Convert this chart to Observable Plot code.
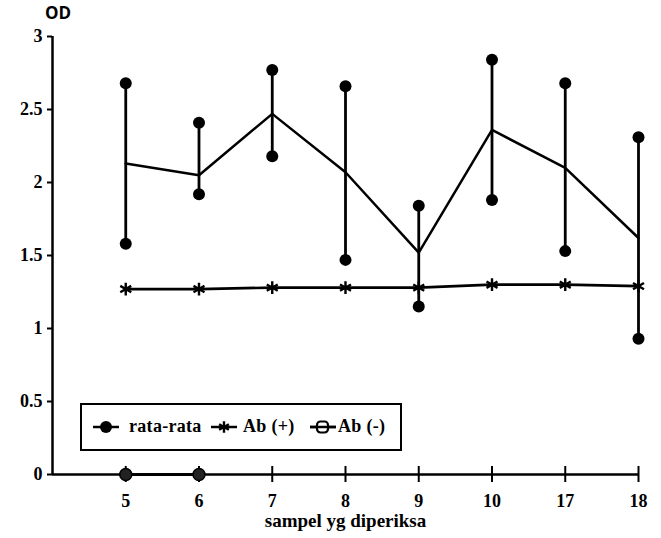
<!DOCTYPE html>
<html>
<head>
<meta charset="utf-8">
<script src="https://cdn.jsdelivr.net/npm/d3@7"></script>
<script src="https://cdn.jsdelivr.net/npm/@observablehq/plot@0.6"></script>
<style>
  html, body { margin: 0; padding: 0; background: #fff; }
  #wrap { position: relative; width: 661px; height: 538px; font-family: "Liberation Serif", "DejaVu Serif", serif; font-weight: bold; color: #000; }
  #legend { position: absolute; left: 80px; top: 403px; width: 318px; height: 44px; border: 2.5px solid #000; box-sizing: content-box; }
  #legend .m { position: absolute; top: 15px; }
  #legend .t { position: absolute; top: 10px; font-size: 18px; line-height: 22px; letter-spacing: 0.3px; white-space: nowrap; }
  #od { position: absolute; left: 45px; top: 1px; font-size: 17px; font-family: "Open Sans", "DejaVu Sans", sans-serif; font-weight: bold; }
</style>
</head>
<body>
<div id="wrap">
  <div id="od">OD</div>
  <div id="chart"></div>
  <div id="legend"></div>
</div>
<script>
// categories (sample numbers)
const labels = ["5", "6", "7", "8", "9", "10", "17", "18"];
// mean OD (rata-rata)
const meanVals = [2.13, 2.05, 2.47, 2.07, 1.52, 2.36, 2.10, 1.62];
// max / min OD
const maxVals = [2.68, 2.41, 2.77, 2.66, 1.84, 2.84, 2.68, 2.31];
const minVals = [1.58, 1.92, 2.18, 1.47, 1.15, 1.88, 1.53, 0.93];
// positive control Ab (+)
const abPos = [1.27, 1.27, 1.28, 1.28, 1.28, 1.30, 1.30, 1.29];
// negative control Ab (-)
const abNegLabels = ["5", "6"];
const abNeg = [0, 0];
const yTicks = [0, 0.5, 1, 1.5, 2, 2.5, 3];

const idx = l => labels.indexOf(l) + 1;
const rows = labels.map((l, i) => ({i: i + 1, label: l, mean: meanVals[i], max: maxVals[i], min: minVals[i], pos: abPos[i]}));
const neg = abNegLabels.map((l, k) => ({i: idx(l), v: abNeg[k]}));
const positions = labels.map((l, i) => i + 1);

const chart = Plot.plot({
  width: 661,
  height: 538,
  marginLeft: 52,
  marginRight: 23,
  marginTop: 36,
  marginBottom: 64,
  style: {fontFamily: "'Liberation Serif', serif", fontWeight: "bold", fontSize: "18px", color: "#000", background: "#fff"},
  x: {type: "linear", domain: [0, labels.length], axis: null},
  y: {domain: [0, 3], axis: null},
  marks: [
    Plot.axisY({ticks: yTicks, tickSize: 5, tickPadding: 5, tickFormat: d => String(d), label: null, strokeWidth: 2, fontSize: 18}),
    Plot.axisX({ticks: positions, tickSize: 0, tickPadding: 20, tickFormat: i => labels[i - 1], label: null, fontSize: 18}),
    Plot.text(["sampel yg diperiksa"], {frameAnchor: "bottom", dy: 52, fontSize: 19, fontWeight: "bold", letterSpacing: "0.6px"}),
    // axis lines
    Plot.ruleX([0], {y1: 0, y2: 3, strokeWidth: 2.5}),
    Plot.ruleY([0], {x1: 0, x2: labels.length, strokeWidth: 2.5}),
    Plot.ruleX(positions, {y1: -0.055, y2: 0.055, strokeWidth: 2}),
    // range bars
    Plot.ruleX(rows, {x: "i", y1: "min", y2: "max", strokeWidth: 2.8}),
    Plot.dot(rows, {x: "i", y: "max", r: 6, fill: "#000"}),
    Plot.dot(rows, {x: "i", y: "min", r: 6, fill: "#000"}),
    // mean line
    Plot.line(rows, {x: "i", y: "mean", strokeWidth: 2.5}),
    // Ab (+)
    Plot.line(rows, {x: "i", y: "pos", strokeWidth: 2.7}),
    Plot.dot(rows, {x: "i", y: "pos", symbol: "asterisk", r: 6, stroke: "#000", strokeWidth: 2.4}),
    // Ab (-)
    Plot.line(neg, {x: "i", y: "v", strokeWidth: 3}),
    Plot.dot(neg, {x: "i", y: "v", r: 6, fill: "#222", stroke: "#000", strokeWidth: 1.5})
  ]
});
document.getElementById("chart").appendChild(chart);

// legend
const legendItems = [
  {name: "rata-rata", sym: "dot", mx: 10, tx: 47},
  {name: "Ab (+)", sym: "ast", mx: 128, tx: 161},
  {name: "Ab (-)", sym: "neg", mx: 227, tx: 256}
];
const lg = d3.select("#legend");
legendItems.forEach(it => {
  const s = lg.append("svg").attr("class", "m").style("left", it.mx + "px").attr("width", 28).attr("height", 14);
  s.append("line").attr("x1", 1).attr("x2", 27).attr("y1", 7).attr("y2", 7).attr("stroke", "#000").attr("stroke-width", 2.5);
  if (it.sym === "dot") s.append("circle").attr("cx", 14).attr("cy", 7).attr("r", 6).attr("fill", "#000");
  if (it.sym === "ast") s.append("path").attr("transform", "translate(14,7)").attr("d", d3.symbol(d3.symbolAsterisk, 90)()).attr("stroke", "#000").attr("stroke-width", 2.4).attr("fill", "none");
  if (it.sym === "neg") {
    s.append("rect").attr("x", 8).attr("y", 1.5).attr("width", 11).attr("height", 11).attr("rx", 3.5).attr("fill", "#fff").attr("stroke", "#000").attr("stroke-width", 2.2);
    s.append("line").attr("x1", 1).attr("x2", 27).attr("y1", 7).attr("y2", 7).attr("stroke", "#000").attr("stroke-width", 2.5);
  }
  lg.append("span").attr("class", "t").style("left", it.tx + "px").text(it.name);
});
</script>
</body>
</html>
